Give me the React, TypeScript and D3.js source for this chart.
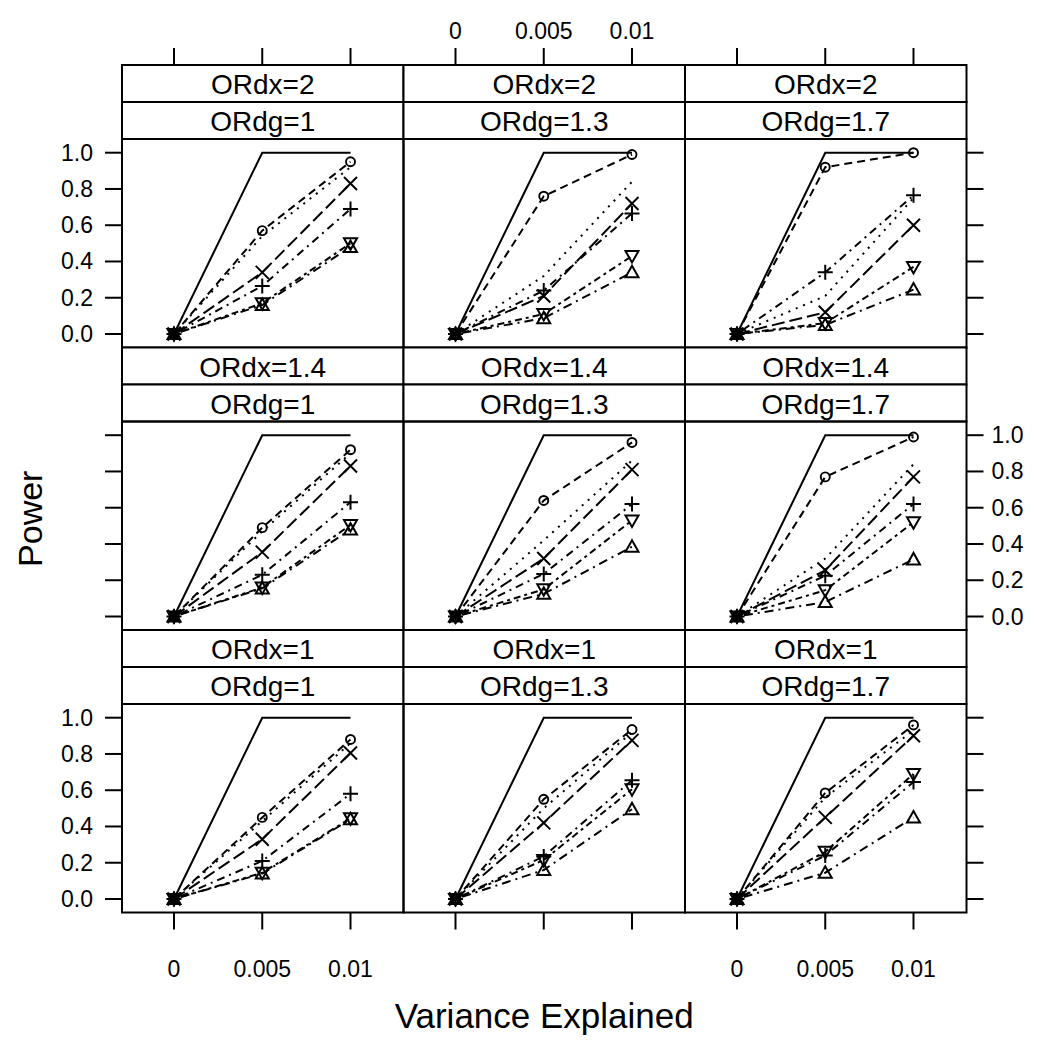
import React from 'react';
import * as d3 from 'd3';

// x values and panel levels
const varExplained = [0, 0.005, 0.01];
const xTickLabels = ['0', '0.005', '0.01'];
const yTicks = [0, 0.2, 0.4, 0.6, 0.8, 1.0];
const orDxLevels = ['2', '1.4', '1'];
const orDgLevels = ['1', '1.3', '1.7'];

// power per panel (row-major: ORdx=2 row first, ORdg=1,1.3,1.7 across)
const powerSolid = [
  [0, 1, 1], [0, 1, 1], [0, 1, 1],
  [0, 1, 1], [0, 1, 1], [0, 1, 1],
  [0, 1, 1], [0, 1, 1], [0, 1, 1],
];
const powerCircle = [
  [0, 0.57, 0.95], [0, 0.76, 0.99], [0, 0.92, 1.0],
  [0, 0.49, 0.92], [0, 0.64, 0.96], [0, 0.77, 0.99],
  [0, 0.45, 0.88], [0, 0.55, 0.935], [0, 0.585, 0.96],
];
const powerDotted = [
  [0, 0.54, 0.92], [0, 0.32, 0.84], [0, 0.21, 0.75],
  [0, 0.47, 0.9], [0, 0.42, 0.86], [0, 0.32, 0.84],
  [0, 0.43, 0.86], [0, 0.5, 0.92], [0, 0.56, 0.93],
];
const powerCross = [
  [0, 0.34, 0.83], [0, 0.21, 0.72], [0, 0.12, 0.6],
  [0, 0.355, 0.83], [0, 0.32, 0.81], [0, 0.255, 0.77],
  [0, 0.33, 0.805], [0, 0.42, 0.875], [0, 0.45, 0.9],
];
const powerPlus = [
  [0, 0.265, 0.69], [0, 0.24, 0.665], [0, 0.34, 0.765],
  [0, 0.23, 0.63], [0, 0.235, 0.62], [0, 0.225, 0.62],
  [0, 0.21, 0.58], [0, 0.235, 0.655], [0, 0.24, 0.645],
];
const powerDown = [
  [0, 0.17, 0.5], [0, 0.11, 0.43], [0, 0.06, 0.37],
  [0, 0.16, 0.505], [0, 0.15, 0.53], [0, 0.145, 0.52],
  [0, 0.145, 0.445], [0, 0.215, 0.605], [0, 0.26, 0.69],
];
const powerUp = [
  [0, 0.16, 0.48], [0, 0.087, 0.34], [0, 0.05, 0.245],
  [0, 0.155, 0.48], [0, 0.125, 0.385], [0, 0.08, 0.315],
  [0, 0.14, 0.44], [0, 0.16, 0.495], [0, 0.145, 0.45],
];

const series = [
  { values: powerSolid, dash: 'none', marker: 'none' },
  { values: powerDotted, dash: '2,6', marker: 'none' },
  { values: powerCircle, dash: '8,5', marker: 'circle' },
  { values: powerCross, dash: '13,5', marker: 'cross' },
  { values: powerPlus, dash: '2,5,8,5', marker: 'plus' },
  { values: powerDown, dash: '3,4,7,4', marker: 'down' },
  { values: powerUp, dash: '2,5,9,5', marker: 'up' },
];

const W = 1044;
const H = 1050;
const left = 122;
const colW = 281.5;
const top = 65;
const rowH = 282.5;
const stripH = 37;
const tickLen = 17;
const font = 'Liberation Sans, Arial, Helvetica, sans-serif';

const Marker = ({ type, x, y }: { type: string; x: number; y: number }) => {
  const s = 6.5;
  if (type === 'circle') return <circle cx={x} cy={y} r={4.5} fill="none" stroke="#000" strokeWidth={1.9} />;
  if (type === 'cross')
    return <path d={`M${x - s},${y - s}L${x + s},${y + s}M${x - s},${y + s}L${x + s},${y - s}`} stroke="#000" strokeWidth={2} />;
  if (type === 'plus')
    return <path d={`M${x - s - 1},${y}L${x + s + 1},${y}M${x},${y - s - 1}L${x},${y + s + 1}`} stroke="#000" strokeWidth={2} />;
  if (type === 'down')
    return <path d={`M${x - 6.5},${y - 5}L${x + 6.5},${y - 5}L${x},${y + 6.5}Z`} fill="none" stroke="#000" strokeWidth={2} />;
  if (type === 'up')
    return <path d={`M${x - 6.5},${y + 5}L${x + 6.5},${y + 5}L${x},${y - 6.5}Z`} fill="none" stroke="#000" strokeWidth={2} />;
  return null;
};

const App = () => {
  const panels: React.ReactNode[] = [];
  const axes: React.ReactNode[] = [];

  orDxLevels.forEach((dx, r) => {
    const rowTop = top + r * rowH;
    const pTop = rowTop + 2 * stripH;
    const pBot = rowTop + rowH;
    const y = d3.scaleLinear().domain([0, 1]).range([pTop + 195, pTop + 13.7]);

    orDgLevels.forEach((dg, c) => {
      const x0 = left + c * colW;
      const x = d3.scaleLinear().domain([0, 0.01]).range([x0 + 52, x0 + 228.5]);
      const idx = r * 3 + c;
      const line = d3
        .line<number>()
        .x((_, i) => x(varExplained[i]))
        .y((v) => y(v));

      panels.push(
        <g key={`p${idx}`}>
          <rect x={x0} y={rowTop} width={colW} height={stripH} fill="#fff" stroke="#000" strokeWidth={2} />
          <rect x={x0} y={rowTop + stripH} width={colW} height={stripH} fill="#fff" stroke="#000" strokeWidth={2} />
          <text x={x0 + colW / 2} y={rowTop + stripH - 8} textAnchor="middle" fontSize={28} fontFamily={font}>
            {`ORdx=${dx}`}
          </text>
          <text x={x0 + colW / 2} y={rowTop + 2 * stripH - 8} textAnchor="middle" fontSize={28} fontFamily={font}>
            {`ORdg=${dg}`}
          </text>
          <rect x={x0} y={pTop} width={colW} height={pBot - pTop} fill="none" stroke="#000" strokeWidth={2} />
          {series.map((s, si) => (
            <g key={si}>
              <path
                d={line(s.values[idx]) || ''}
                fill="none"
                stroke="#000"
                strokeWidth={2}
                strokeDasharray={s.dash}
              />
              {s.values[idx].map((v, i) =>
                s.marker !== 'none' ? <Marker key={i} type={s.marker} x={x(varExplained[i])} y={y(v)} /> : null
              )}
            </g>
          ))}
        </g>
      );

      // top axis (above first row)
      if (r === 0) {
        varExplained.forEach((v, i) => {
          axes.push(
            <line key={`tt${c}${i}`} x1={x(v)} x2={x(v)} y1={rowTop} y2={rowTop - tickLen} stroke="#000" strokeWidth={2} />
          );
          if (c === 1)
            axes.push(
              <text key={`tl${c}${i}`} x={x(v)} y={rowTop - 26} textAnchor="middle" fontSize={23} fontFamily={font}>
                {xTickLabels[i]}
              </text>
            );
        });
      }
      // bottom axis
      if (r === 2) {
        varExplained.forEach((v, i) => {
          axes.push(
            <line key={`bt${c}${i}`} x1={x(v)} x2={x(v)} y1={pBot} y2={pBot + tickLen} stroke="#000" strokeWidth={2} />
          );
          if (c !== 1)
            axes.push(
              <text key={`bl${c}${i}`} x={x(v)} y={pBot + 64} textAnchor="middle" fontSize={23} fontFamily={font}>
                {xTickLabels[i]}
              </text>
            );
        });
      }
    });

    // left and right y axes
    const xl = left;
    const xr = left + 3 * colW;
    yTicks.forEach((t) => {
      axes.push(
        <line key={`ly${r}${t}`} x1={xl} x2={xl - tickLen} y1={y(t)} y2={y(t)} stroke="#000" strokeWidth={2} />,
        <line key={`ry${r}${t}`} x1={xr} x2={xr + tickLen} y1={y(t)} y2={y(t)} stroke="#000" strokeWidth={2} />
      );
      if (r !== 1)
        axes.push(
          <text key={`lyl${r}${t}`} x={xl - 29} y={y(t) + 8} textAnchor="end" fontSize={23} fontFamily={font}>
            {t.toFixed(1)}
          </text>
        );
      else
        axes.push(
          <text key={`ryl${r}${t}`} x={xr + 25} y={y(t) + 8} textAnchor="start" fontSize={23} fontFamily={font}>
            {t.toFixed(1)}
          </text>
        );
    });
  });

  return (
    <svg width={W} height={H} style={{ position: 'absolute', left: 0, top: 0, background: '#fff' }}>
      <rect width={W} height={H} fill="#fff" />
      {panels}
      {axes}
      <text
        transform={`translate(42,${top + 1.5 * rowH + 30}) rotate(-90)`}
        textAnchor="middle"
        fontSize={34}
        fontFamily={font}
      >
        Power
      </text>
      <text x={left + 1.5 * colW} y={1028} textAnchor="middle" fontSize={35} fontFamily={font}>
        Variance Explained
      </text>
    </svg>
  );
};

export default App;
